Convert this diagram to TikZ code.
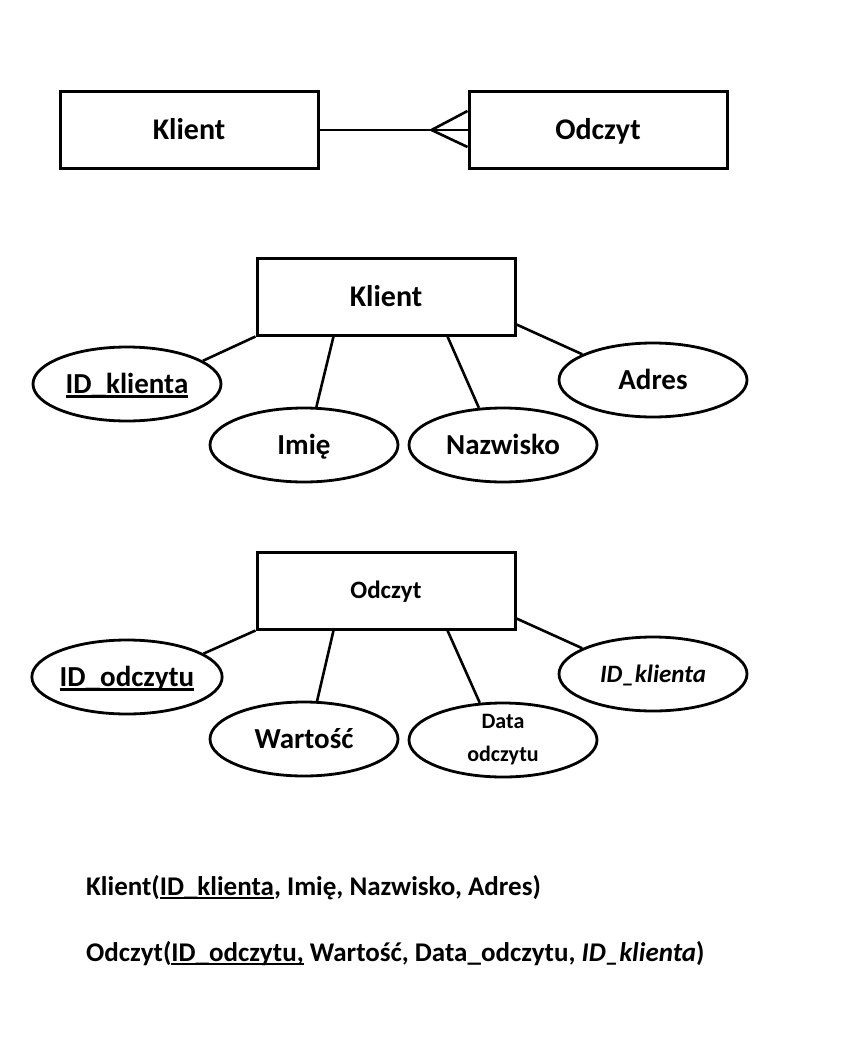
\documentclass[tikz,border=0pt]{standalone}
\usepackage{fontspec}
\setmainfont{Carlito}
\usetikzlibrary{shapes.geometric}
\newcommand{\ulin}[1]{\setbox0\hbox{#1}\rlap{\raisebox{-4.3pt}{\rule{\wd0}{2.6pt}}}\box0{}}

\tikzset{
	entity/.style={draw, line width=3pt, minimum width=258pt, minimum height=77pt, inner sep=0pt, text height=19pt, text depth=0pt, font=\fontsize{30}{36}\selectfont\bfseries},
	oval/.style={ellipse, draw, line width=2.8pt, minimum width=188pt, minimum height=74pt, inner sep=0pt, font=\fontsize{29}{34}\selectfont\bfseries},
	attr/.style={oval, text height=18.5pt, text depth=0pt},
	link/.style={line width=2.6pt},
	schema/.style={anchor=base west, inner sep=0pt, font=\fontsize{27}{34}\selectfont\bfseries},
}

\begin{document}
\begin{tikzpicture}[x=1pt,y=-1pt]
						\useasboundingbox (0,0) rectangle (848,1046);
						%relationship
						\node[entity] (klient1) at (189,130) {Klient};
						\node[entity] (odczyt1) at (598,130) {Odczyt};
						\coordinate (crow) at ([xshift=-36pt]odczyt1.west);
						\draw[link] (klient1.east) -- (odczyt1.west);
						\draw[link] (crow) -- ([yshift=19pt]odczyt1.west);
						\draw[link] (crow) -- ([yshift=-17pt]odczyt1.west);
						%Klient
						\node[entity] (klient2) at (386,296.5) {Klient};
						\node[attr] (idklienta) at (127,384) {\ulin{ID\_klienta}};
						\node[attr] (imie) at (304,445) {Imię};
						\node[attr] (nazwisko) at (503,445) {Nazwisko};
						\node[attr] (adres) at (653,380) {Adres};
						\draw[link] (klient2.south west) -- (idklienta.17);
						\draw[link] ([xshift=78pt]klient2.south west) -- (imie.72);
						\draw[link] ([xshift=-69pt]klient2.south east) -- (nazwisko.123);
						\draw[link] ([yshift=12pt]klient2.south east) -- (adres.160);
						%Odczyt
						\node[entity, text height=16pt, font=\fontsize{25}{30}\selectfont\bfseries] (odczyt2) at (386,590.5) {Odczyt};
						\node[attr] (idodczytu) at (127,677) {\ulin{ID\_odczytu}};
						\node[attr] (wartosc) at (304,739) {Wartość};
						\node[oval, align=center, font=\fontsize{22}{33}\selectfont\bfseries] (data) at (503,740) {Data\\odczytu};
						\node[attr, text height=16pt, font=\fontsize{25}{30}\selectfont\bfseries\itshape] (idklienta2) at (653,674) {ID\_klienta};
						\draw[link] (odczyt2.south west) -- (idodczytu.17);
						\draw[link] ([xshift=78pt]odczyt2.south west) -- (wartosc.71);
						\draw[link] ([xshift=-69pt]odczyt2.south east) -- (data.122);
						\draw[link] ([yshift=12pt]odczyt2.south east) -- (idklienta2.160);
						%schemas
						\node[schema] (schema1) at (86,895) {Klient(\ulin{ID\_klienta}, Imię, Nazwisko, Adres)};
						\node[schema] (schema2) at (86,961) {Odczyt(\ulin{ID\_odczytu,} Wartość, Data\_odczytu, \textit{ID\_klienta})};
						\end{tikzpicture}
\end{document}
